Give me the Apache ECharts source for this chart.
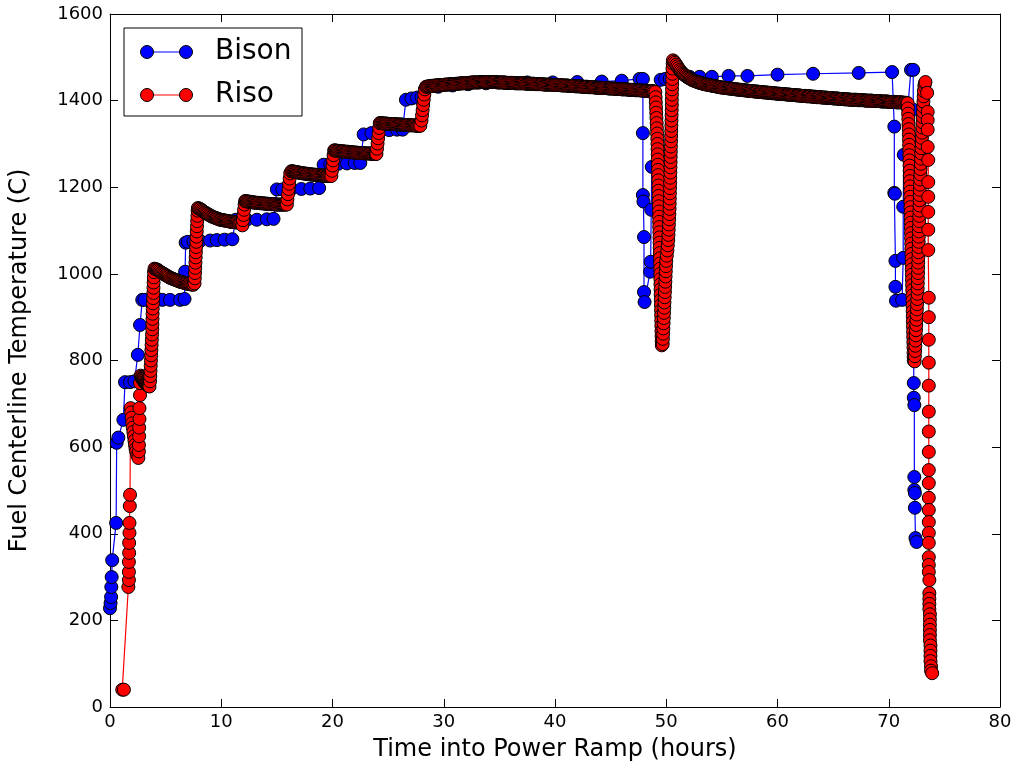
<!DOCTYPE html>
<html>
<head>
<meta charset="utf-8">
<script src="https://cdn.jsdelivr.net/npm/echarts@6/dist/echarts.min.js"></script>
<style>
html,body{margin:0;padding:0;background:#fff;}
#chart{width:1019px;height:768px;}
</style>
</head>
<body>
<div id="chart"></div>
<script>
// ---- Axis ticks ----
const xTicks = [0,10,20,30,40,50,60,70,80];
const yTicks = [0,200,400,600,800,1000,1200,1400,1600];

// ---- Bison (blue) series, [hours, C] ----
const bisonStart = [[0.0,228],[0.05,240],[0.1,254],[0.12,277],[0.15,300],[0.2,339],[0.55,425],[0.6,610],[0.75,622],[1.2,663],[1.35,750],[1.8,750],[2.2,752],[2.5,813],[2.7,882]];
const bisonSteps = [[2.9,940],[3.1,940],[3.9,940],[4.7,940],[5.4,940],[6.3,940],[6.7,942],[6.75,1005],[6.8,1072],[7.0,1074],[7.5,1075],[8.1,1076],[9.0,1077],[9.6,1078],[10.3,1079],[11.0,1080],
  [11.3,1125],[12.3,1125],[13.2,1125],[14.1,1126],[14.7,1127],
  [15.0,1195],[15.5,1195],[16.3,1196],[17.2,1196],[18.0,1197],[18.8,1198],
  [19.2,1252],[19.8,1253],[20.5,1254],[21.3,1255],[22.0,1256],[22.5,1256],
  [22.8,1322],[23.5,1325],[24.3,1330],[25.1,1332],[25.8,1333],[26.3,1333],
  [26.6,1402],[27.1,1405],[27.6,1407],[28.0,1408]];
const bisonPlateau = [[28.4,1428],[29.5,1432],[30.8,1435],[32.2,1438],[33.8,1440],[35.5,1441],[37.5,1442],[39.8,1442],[42.0,1443],[44.2,1444],[46.0,1446],[47.6,1450]];
const bisonDip1 = [[47.9,1450],[47.9,1325],[47.9,1182],[47.95,1167],[48.0,1085],[48.0,958],[48.05,935],[48.55,1005],[48.6,1028],[48.65,1148],[48.7,1247],[49.5,1448],[49.9,1450],[50.3,1450]];
const bisonLate = [[52.1,1455],[53.0,1455],[54.1,1455],[55.6,1457],[57.3,1457],[60.0,1460],[63.2,1462],[67.3,1464],[70.3,1466]];
const bisonDip2 = [[70.5,1340],[70.5,1187],[70.55,1185],[70.6,1030],[70.6,970],[70.65,938],[71.2,940],[71.3,1037],[71.3,1155],[71.35,1275],[72.0,1471],[72.2,1471],[72.2,1379],[72.25,748],[72.25,714],[72.3,697],[72.3,531],[72.3,501],[72.35,494],[72.35,460],[72.4,390],[72.5,381]];

// ---- Riso (red) series, [hours, C] ----
const risoStart = [[1.1,40],[1.25,40],[1.65,277],[1.7,293],[1.7,312],[1.7,335],[1.72,356],[1.72,379],[1.75,402],[1.75,425],[1.78,464],[1.8,490]];
const risoStep1 = [[1.85,690],[1.9,680],[1.95,668],[2.0,655],[2.05,645],[2.1,635],[2.15,625],[2.2,615],[2.25,605],[2.3,596],[2.35,590],[2.45,582],
  [2.55,575],[2.6,590],[2.6,605],[2.62,625],[2.62,645],[2.65,665],[2.65,690],[2.7,720],[2.7,748],
  [2.75,765],[2.8,762],[2.85,760],[2.9,758],[2.95,756],[3.0,754],[3.05,752],[3.1,750],[3.15,749],[3.2,747],[3.25,746],[3.3,745],[3.35,744],[3.4,743],[3.45,742],[3.5,741],[3.55,740]];
const risoStep2 = [[3.6,752],[3.62,764],[3.64,776],[3.66,788],[3.68,800],[3.7,812],[3.72,824],[3.74,836],[3.76,848],[3.78,860],[3.8,872],[3.81,884],[3.82,896],[3.83,908],[3.84,920],[3.86,932],[3.88,944],[3.9,956],[3.91,968],[3.92,980],[3.94,992],[3.96,1004],
  [4.0,1012],[4.1,1011],[4.2,1010],[4.3,1009],[4.4,1007],[4.5,1005],[4.6,1003],[4.7,1002],[4.8,1000],[4.9,999],[5.0,997],[5.1,996],[5.2,994],[5.3,993],[5.4,991],[5.5,990],[5.6,989],[5.7,988],[5.8,987],[5.9,986],
  [6.0,985],[6.1,984],[6.2,983],[6.3,982],[6.4,981],[6.5,981],[6.6,980],[6.7,979],[6.8,978],[6.9,978],[7.0,977],[7.1,977],[7.2,976],[7.3,976],[7.4,975],[7.5,975]];
const risoStep3 = [[7.6,978],[7.62,990],[7.64,1002],[7.66,1014],[7.68,1026],[7.7,1038],[7.72,1050],[7.74,1062],[7.76,1074],[7.78,1086],[7.8,1098],[7.82,1110],[7.84,1122],[7.86,1134],[7.88,1146],
  [7.9,1152],[8.0,1151],[8.1,1150],[8.2,1148],[8.3,1146],[8.4,1144],[8.5,1142],[8.6,1141],[8.7,1139],[8.8,1138],[8.9,1136],[9.0,1135],[9.1,1133],[9.2,1132],[9.3,1131],[9.4,1130],[9.5,1129],[9.6,1128],[9.7,1127],[9.8,1126],
  [9.9,1125],[10.0,1125],[10.1,1124],[10.2,1124],[10.3,1123],[10.4,1123],[10.5,1122],[10.6,1122],[10.7,1121],[10.8,1121],[10.9,1120],[11.0,1120],[11.1,1120],[11.2,1119],[11.3,1119],[11.4,1119],[11.5,1119],[11.6,1118],[11.7,1118],[11.8,1118]];
const risoStep4 = [[11.9,1112],[11.95,1124],[12.0,1136],[12.05,1148],[12.1,1160],[12.15,1168],
  [12.2,1168],[12.3,1167],[12.4,1167],[12.5,1167],[12.6,1166],[12.7,1166],[12.8,1165],[12.9,1165],[13.0,1165],[13.1,1164],[13.2,1164],[13.3,1164],[13.4,1164],[13.5,1163],[13.6,1163],[13.7,1163],[13.8,1163],[13.9,1162],
  [14.0,1162],[14.1,1162],[14.2,1162],[14.3,1161],[14.4,1161],[14.5,1161],[14.6,1161],[14.7,1161],[14.8,1161],[14.9,1160],[15.0,1160],[15.1,1160],[15.2,1160],[15.3,1160],[15.4,1160],[15.5,1160],[15.6,1160],[15.7,1160],[15.8,1160],[15.9,1160]];
const risoStep5 = [[15.95,1172],[16.0,1184],[16.05,1196],[16.1,1208],[16.15,1220],[16.2,1232],
  [16.3,1237],[16.4,1237],[16.5,1236],[16.6,1236],[16.7,1235],[16.8,1235],[16.9,1234],[17.0,1234],[17.1,1233],[17.2,1233],[17.3,1232],[17.4,1232],[17.5,1232],[17.6,1231],[17.7,1231],[17.8,1231],[17.9,1230],[18.0,1230],
  [18.1,1230],[18.2,1229],[18.3,1229],[18.4,1229],[18.5,1229],[18.6,1228],[18.7,1228],[18.8,1228],[18.9,1228],[19.0,1227],[19.1,1227],[19.2,1227],[19.3,1227],[19.4,1226],[19.5,1226],[19.6,1226],[19.7,1226],[19.8,1226],[19.9,1226]];
const risoStep6 = [[19.95,1238],[20.0,1250],[20.05,1262],[20.1,1274],[20.15,1285],
  [20.2,1285],[20.3,1285],[20.4,1284],[20.5,1284],[20.6,1284],[20.7,1283],[20.8,1283],[20.9,1283],[21.0,1283],[21.1,1282],[21.2,1282],[21.3,1282],[21.4,1282],[21.5,1281],[21.6,1281],[21.7,1281],[21.8,1281],[21.9,1280],
  [22.0,1280],[22.1,1280],[22.2,1280],[22.3,1279],[22.4,1279],[22.5,1279],[22.6,1279],[22.7,1279],[22.8,1279],[22.9,1278],[23.0,1278],[23.1,1278],[23.2,1278],[23.3,1278],[23.4,1278],[23.5,1277],[23.6,1277],[23.7,1277],[23.8,1277],[23.9,1277]];
const risoStep7 = [[23.95,1277],[24.0,1289],[24.05,1301],[24.1,1313],[24.15,1325],[24.2,1337],[24.25,1348],
  [24.3,1348],[24.4,1348],[24.5,1348],[24.6,1347],[24.7,1347],[24.8,1347],[24.9,1347],[25.0,1346],[25.1,1346],[25.2,1346],[25.3,1346],[25.4,1346],[25.5,1346],[25.6,1346],[25.7,1345],[25.8,1345],[25.9,1345],
  [26.0,1345],[26.1,1345],[26.2,1345],[26.3,1344],[26.4,1344],[26.5,1344],[26.6,1344],[26.7,1344],[26.8,1344],[26.9,1343],[27.0,1343],[27.1,1343],[27.2,1343],[27.3,1343],[27.4,1343],[27.5,1342],[27.6,1342],[27.7,1342],[27.8,1342],[27.9,1342]];
const risoStep8 = [[28.0,1354],[28.05,1366],[28.1,1378],[28.15,1390],[28.2,1402],[28.25,1414],[28.3,1426]];
const risoPlateau = [[28.4,1432],[28.5,1432],[28.6,1433],[28.7,1433],[28.8,1434],[28.9,1434],[29.0,1434],[29.1,1434],[29.2,1435],[29.3,1435],
  [29.4,1435],[29.5,1435],[29.6,1436],[29.7,1436],[29.8,1436],[29.9,1436],[30.0,1436],[30.1,1437],[30.2,1437],[30.3,1437],
  [30.4,1437],[30.5,1438],[30.6,1438],[30.7,1438],[30.8,1438],[30.9,1438],[31.0,1438],[31.1,1439],[31.2,1439],[31.3,1439],
  [31.4,1439],[31.5,1440],[31.6,1440],[31.7,1440],[31.8,1440],[31.9,1440],[32.0,1440],[32.1,1441],[32.2,1441],[32.3,1441],
  [32.4,1441],[32.5,1442],[32.6,1442],[32.7,1442],[32.8,1442],[32.9,1442],[33.0,1442],[33.1,1442],[33.2,1442],[33.3,1443],
  [33.4,1443],[33.5,1443],[33.6,1443],[33.7,1443],[33.8,1443],[33.9,1443],[34.0,1443],[34.1,1443],[34.2,1443],[34.3,1443],
  [34.4,1443],[34.5,1443],[34.6,1443],[34.7,1443],[34.8,1442],[34.9,1442],[35.0,1442],[35.1,1442],[35.2,1442],[35.3,1442],
  [35.4,1442],[35.5,1442],[35.6,1441],[35.7,1441],[35.8,1441],[35.9,1441],[36.0,1441],[36.1,1441],[36.2,1441],[36.3,1441],
  [36.4,1440],[36.5,1440],[36.6,1440],[36.7,1440],[36.8,1440],[36.9,1440],[37.0,1440],[37.1,1440],[37.2,1440],[37.3,1440],
  [37.4,1439],[37.5,1439],[37.6,1439],[37.7,1439],[37.8,1439],[37.9,1439],[38.0,1439],[38.1,1439],[38.2,1438],[38.3,1438],
  [38.4,1438],[38.5,1438],[38.6,1438],[38.7,1438],[38.8,1438],[38.9,1438],[39.0,1437],[39.1,1437],[39.2,1437],[39.3,1437],
  [39.4,1437],[39.5,1437],[39.6,1437],[39.7,1437],[39.8,1436],[39.9,1436],[40.0,1436],[40.1,1436],[40.2,1436],[40.3,1436],
  [40.4,1436],[40.5,1436],[40.6,1435],[40.7,1435],[40.8,1435],[40.9,1435],[41.0,1435],[41.1,1435],[41.2,1434],[41.3,1434],
  [41.4,1434],[41.5,1434],[41.6,1434],[41.7,1434],[41.8,1433],[41.9,1433],[42.0,1433],[42.1,1433],[42.2,1433],[42.3,1433],
  [42.4,1432],[42.5,1432],[42.6,1432],[42.7,1432],[42.8,1432],[42.9,1432],[43.0,1431],[43.1,1431],[43.2,1431],[43.3,1431],
  [43.4,1431],[43.5,1431],[43.6,1430],[43.7,1430],[43.8,1430],[43.9,1430],[44.0,1430],[44.1,1430],[44.2,1429],[44.3,1429],
  [44.4,1429],[44.5,1429],[44.6,1429],[44.7,1429],[44.8,1428],[44.9,1428],[45.0,1428],[45.1,1428],[45.2,1428],[45.3,1428],
  [45.4,1427],[45.5,1427],[45.6,1427],[45.7,1427],[45.8,1427],[45.9,1427],[46.0,1426],[46.1,1426],[46.2,1426],[46.3,1426],
  [46.4,1426],[46.5,1426],[46.6,1425],[46.7,1425],[46.8,1425],[46.9,1425],[47.0,1425],[47.1,1425],[47.2,1424],[47.3,1424],
  [47.4,1424],[47.5,1424],[47.6,1424],[47.7,1424],[47.8,1423],[47.9,1423],[48.0,1423],[48.1,1423],[48.2,1423],[48.3,1423],
  [48.4,1422],[48.5,1422],[48.6,1422],[48.7,1422],[48.8,1422],[48.9,1421]];
const risoDip1Down = [[49.02,1420],[49.04,1408],[49.06,1396],[49.08,1384],[49.1,1372],[49.12,1360],[49.14,1348],[49.16,1336],[49.18,1324],[49.2,1312],[49.21,1300],[49.22,1288],[49.23,1276],[49.24,1264],[49.25,1252],[49.26,1240],[49.27,1228],[49.28,1216],[49.29,1204],[49.3,1192],[49.31,1180],[49.32,1168],[49.33,1156],[49.34,1144],[49.35,1132],[49.36,1120],[49.37,1108],[49.38,1096],[49.39,1084],[49.4,1072],[49.41,1060],[49.42,1048],[49.43,1036],[49.44,1024],[49.45,1012],[49.46,1000],[49.47,988],[49.48,976],[49.49,964],[49.5,952],[49.51,940],[49.52,928],[49.53,916],[49.54,904],[49.55,892],[49.56,880],[49.57,868],[49.58,856],[49.59,845],[49.6,835]];
const risoDip1Up = [[49.68,838],[49.7,850],[49.72,862],[49.74,874],[49.76,886],[49.78,898],[49.8,910],[49.82,922],[49.84,934],[49.86,946],[49.88,958],[49.9,970],[49.92,982],[49.94,994],[49.96,1006],[49.98,1018],[50.0,1030],[50.05,1042],[50.1,1054],[50.14,1066],[50.18,1078],[50.2,1090],[50.22,1102],[50.24,1114],[50.26,1126],[50.28,1138],[50.3,1150],[50.31,1162],[50.32,1174],[50.33,1186],[50.34,1198],[50.35,1210],[50.36,1222],[50.37,1234],[50.38,1246],[50.39,1258],[50.4,1270],[50.41,1282],[50.42,1294],[50.43,1306],[50.44,1318],[50.45,1330],[50.46,1342],[50.47,1354],[50.48,1366],[50.49,1378],[50.5,1390],[50.5,1402],[50.51,1414],[50.52,1426],[50.53,1438],[50.54,1450],[50.55,1462],[50.56,1474],[50.58,1486],[50.6,1493]];
const risoDecay = [[50.7,1490],[50.8,1487],[50.9,1483],[51.0,1479],[51.1,1475],[51.2,1471],[51.3,1468],[51.4,1465],[51.5,1462],[51.6,1460],
  [51.7,1458],[51.8,1456],[51.9,1454],[52.0,1453],[52.1,1451],[52.2,1450],[52.3,1448],[52.4,1447],[52.5,1446],[52.6,1445],
  [52.7,1444],[52.8,1443],[52.9,1442],[53.0,1441],[53.1,1441],[53.2,1440],[53.3,1439],[53.4,1438],[53.5,1438],[53.6,1437],
  [53.7,1437],[53.8,1436],[53.9,1436],[54.0,1435],[54.1,1435],[54.2,1434],[54.3,1434],[54.4,1433],[54.5,1433],[54.6,1432],
  [54.7,1432],[54.8,1431],[54.9,1431],[55.0,1430],[55.1,1430],[55.2,1430],[55.3,1429],[55.4,1429],[55.5,1429],[55.6,1428],
  [55.7,1428],[55.8,1428],[55.9,1427],[56.0,1427],[56.1,1427],[56.2,1426],[56.3,1426],[56.4,1426],[56.5,1425],[56.6,1425],
  [56.7,1425],[56.8,1425],[56.9,1424],[57.0,1424],[57.1,1424],[57.2,1423],[57.3,1423],[57.4,1423],[57.5,1422],[57.6,1422],
  [57.7,1422],[57.8,1422],[57.9,1421],[58.0,1421],[58.1,1421],[58.2,1421],[58.3,1420],[58.4,1420],[58.5,1420],[58.6,1420],
  [58.7,1419],[58.8,1419],[58.9,1419],[59.0,1419],[59.1,1418],[59.2,1418],[59.3,1418],[59.4,1418],[59.5,1417],[59.6,1417],
  [59.7,1417],[59.8,1417],[59.9,1416],[60.0,1416],[60.1,1416],[60.2,1416],[60.3,1415],[60.4,1415],[60.5,1415],[60.6,1415],
  [60.7,1415],[60.8,1414],[60.9,1414],[61.0,1414],[61.1,1414],[61.2,1413],[61.3,1413],[61.4,1413],[61.5,1413],[61.6,1413],
  [61.7,1412],[61.8,1412],[61.9,1412],[62.0,1412],[62.1,1411],[62.2,1411],[62.3,1411],[62.4,1411],[62.5,1411],[62.6,1410],
  [62.7,1410],[62.8,1410],[62.9,1410],[63.0,1410],[63.1,1409],[63.2,1409],[63.3,1409],[63.4,1409],[63.5,1408],[63.6,1408],
  [63.7,1408],[63.8,1408],[63.9,1408],[64.0,1407],[64.1,1407],[64.2,1407],[64.3,1407],[64.4,1407],[64.5,1406],[64.6,1406],
  [64.7,1406],[64.8,1406],[64.9,1406],[65.0,1405],[65.1,1405],[65.2,1405],[65.3,1405],[65.4,1405],[65.5,1404],[65.6,1404],
  [65.7,1404],[65.8,1404],[65.9,1404],[66.0,1403],[66.1,1403],[66.2,1403],[66.3,1403],[66.4,1403],[66.5,1402],[66.6,1402],
  [66.7,1402],[66.8,1402],[66.9,1402],[67.0,1402],[67.1,1402],[67.2,1401],[67.3,1401],[67.4,1401],[67.5,1401],[67.6,1401],
  [67.7,1401],[67.8,1401],[67.9,1400],[68.0,1400],[68.1,1400],[68.2,1400],[68.3,1400],[68.4,1400],[68.5,1400],[68.6,1399],
  [68.7,1399],[68.8,1399],[68.9,1399],[69.0,1399],[69.1,1399],[69.2,1399],[69.3,1398],[69.4,1398],[69.5,1398],[69.6,1398],
  [69.7,1398],[69.8,1398],[69.9,1398],[70.0,1397],[70.1,1397],[70.2,1397],[70.3,1397],[70.4,1397],[70.5,1397],[70.6,1397],
  [70.7,1396],[70.8,1396],[70.9,1396],[71.0,1396],[71.1,1396],[71.2,1396],[71.3,1395],[71.4,1395],[71.5,1395],[71.6,1395]];
const risoDip2Down = [[71.7,1394],[71.72,1382],[71.74,1370],[71.76,1358],[71.78,1346],[71.8,1334],[71.81,1322],[71.82,1310],[71.83,1298],[71.84,1286],[71.85,1274],[71.86,1262],[71.87,1250],[71.88,1238],[71.89,1226],[71.9,1214],[71.91,1202],[71.92,1190],[71.93,1178],[71.94,1166],[71.95,1154],[71.96,1142],[71.97,1130],[71.98,1118],[71.99,1106],[72.0,1094],[72.01,1082],[72.02,1070],[72.03,1058],[72.04,1046],[72.05,1034],[72.06,1022],[72.07,1010],[72.08,998],[72.09,986],[72.1,974],[72.11,962],[72.12,950],[72.13,938],[72.14,926],[72.15,914],[72.16,902],[72.17,890],[72.18,878],[72.19,866],[72.2,854],[72.21,842],[72.22,830],[72.23,818],[72.24,808],[72.25,800]];
const risoDip2Up = [[72.33,798],[72.35,810],[72.37,822],[72.39,834],[72.41,846],[72.43,858],[72.45,870],[72.47,882],[72.49,894],[72.51,906],[72.53,918],[72.55,930],[72.57,942],[72.59,954],[72.6,966],[72.61,978],[72.62,990],[72.63,1002],[72.64,1014],[72.65,1026],[72.66,1038],[72.67,1050],[72.68,1062],[72.69,1074],[72.7,1086],[72.71,1098],[72.72,1110],[72.73,1122],[72.74,1134],[72.75,1146],[72.76,1158],[72.77,1170],[72.78,1182],[72.79,1194],[72.8,1206],[72.82,1218],[72.84,1230],[72.86,1242],[72.88,1254],[72.9,1266],[72.92,1278],[72.94,1290],[72.96,1302],[72.98,1314],[73.0,1326],[73.02,1338],[73.04,1350],[73.06,1362],[73.08,1374],[73.1,1386],[73.12,1398],[73.14,1410],[73.16,1422],[73.2,1434],[73.25,1440],[73.3,1443]];
const risoFinal = [[73.45,1418],[73.5,1374],[73.5,1355],[73.5,1333],[73.5,1293],[73.55,1263],[73.55,1212],[73.55,1178],[73.55,1143],[73.55,1102],[73.55,1055],[73.6,945],[73.6,900],[73.6,848],[73.6,795],[73.6,742],[73.6,682],[73.6,636],[73.6,589],[73.6,547],[73.6,517],[73.6,483],[73.6,455],[73.6,427],[73.6,402],[73.6,379],[73.6,346],[73.6,328],[73.6,312],[73.65,293],[73.65,263],[73.65,250],[73.65,238],[73.65,226],[73.7,214],[73.7,202],[73.7,190],[73.7,178],[73.7,166],[73.7,154],[73.75,142],[73.75,130],[73.75,118],[73.75,106],[73.8,94],[73.8,84],[73.9,78]];

const bisonData = [].concat(bisonStart, bisonSteps, bisonPlateau, bisonDip1, bisonLate, bisonDip2);
const risoData = [].concat(risoStart, risoStep1, risoStep2, risoStep3, risoStep4, risoStep5, risoStep6, risoStep7, risoStep8, risoPlateau, risoDip1Down, risoDip1Up, risoDecay, risoDip2Down, risoDip2Up, risoFinal);

const FONT = 'DejaVu Sans';
const chart = echarts.init(document.getElementById('chart'), null, {renderer:'canvas'});

const baseAxisLine = {show:true, onZero:false, lineStyle:{color:'#000', width:1}};
const tickInside = {show:true, inside:true, length:8, lineStyle:{color:'#000', width:1}};
const plainNum = v => String(v);

const option = {
  animation:false,
  backgroundColor:'#fff',
  grid:{left:110, right:19, top:14, bottom:61, containLabel:false},
  xAxis:[{
    type:'value', min:xTicks[0], max:xTicks[xTicks.length-1], interval:10,
    name:'Time into Power Ramp (hours)', nameLocation:'middle', nameGap:31,
    nameTextStyle:{fontFamily:FONT, fontSize:24, color:'#000'},
    axisLine:baseAxisLine, axisTick:tickInside,
    axisLabel:{fontFamily:FONT, fontSize:18, color:'#000', margin:6, formatter:plainNum},
    splitLine:{show:false}
  },{
    type:'value', position:'top', min:xTicks[0], max:xTicks[xTicks.length-1], interval:10,
    axisLine:baseAxisLine, axisTick:tickInside, axisLabel:{show:false}, splitLine:{show:false}
  }],
  yAxis:[{
    type:'value', min:yTicks[0], max:yTicks[yTicks.length-1], interval:200,
    name:'Fuel Centerline Temperature (C)', nameLocation:'middle', nameGap:78, nameRotate:90,
    nameTextStyle:{fontFamily:FONT, fontSize:24, color:'#000'},
    axisLine:baseAxisLine, axisTick:tickInside,
    axisLabel:{fontFamily:FONT, fontSize:18, color:'#000', margin:7, formatter:plainNum},
    splitLine:{show:false}
  },{
    type:'value', position:'right', min:yTicks[0], max:yTicks[yTicks.length-1], interval:200,
    axisLine:baseAxisLine, axisTick:tickInside, axisLabel:{show:false}, splitLine:{show:false}
  }],
  series:[{
    name:'Bison', type:'line', data:bisonData, showAllSymbol:true,
    symbol:'circle', symbolSize:13,
    lineStyle:{color:'#0000ff', width:1.2},
    itemStyle:{color:'#0000ff', borderColor:'#000', borderWidth:1},
    z:2
  },{
    name:'Riso', type:'line', data:risoData, showAllSymbol:true,
    symbol:'circle', symbolSize:13,
    lineStyle:{color:'#ff0000', width:1.2},
    itemStyle:{color:'#ff0000', borderColor:'#000', borderWidth:1},
    z:3
  }],
  graphic:[
    {type:'rect', shape:{x:124, y:28, width:178, height:88}, style:{fill:'#fff', stroke:'#000', lineWidth:1}, z:100},
    {type:'line', shape:{x1:147, y1:52, x2:186, y2:52}, style:{stroke:'#0000ff', lineWidth:1.2}, z:101},
    {type:'circle', shape:{cx:147, cy:52, r:6.5}, style:{fill:'#0000ff', stroke:'#000', lineWidth:1}, z:102},
    {type:'circle', shape:{cx:186, cy:52, r:6.5}, style:{fill:'#0000ff', stroke:'#000', lineWidth:1}, z:102},
    {type:'text', x:215, y:52, style:{text:'Bison', fontFamily:FONT, fontSize:28, fill:'#000', verticalAlign:'middle', align:'left'}, z:102},
    {type:'line', shape:{x1:147, y1:95, x2:186, y2:95}, style:{stroke:'#ff0000', lineWidth:1.2}, z:101},
    {type:'circle', shape:{cx:147, cy:95, r:6.5}, style:{fill:'#ff0000', stroke:'#000', lineWidth:1}, z:102},
    {type:'circle', shape:{cx:186, cy:95, r:6.5}, style:{fill:'#ff0000', stroke:'#000', lineWidth:1}, z:102},
    {type:'text', x:215, y:95, style:{text:'Riso', fontFamily:FONT, fontSize:28, fill:'#000', verticalAlign:'middle', align:'left'}, z:102}
  ]
};
chart.setOption(option);
</script>
</body>
</html>
